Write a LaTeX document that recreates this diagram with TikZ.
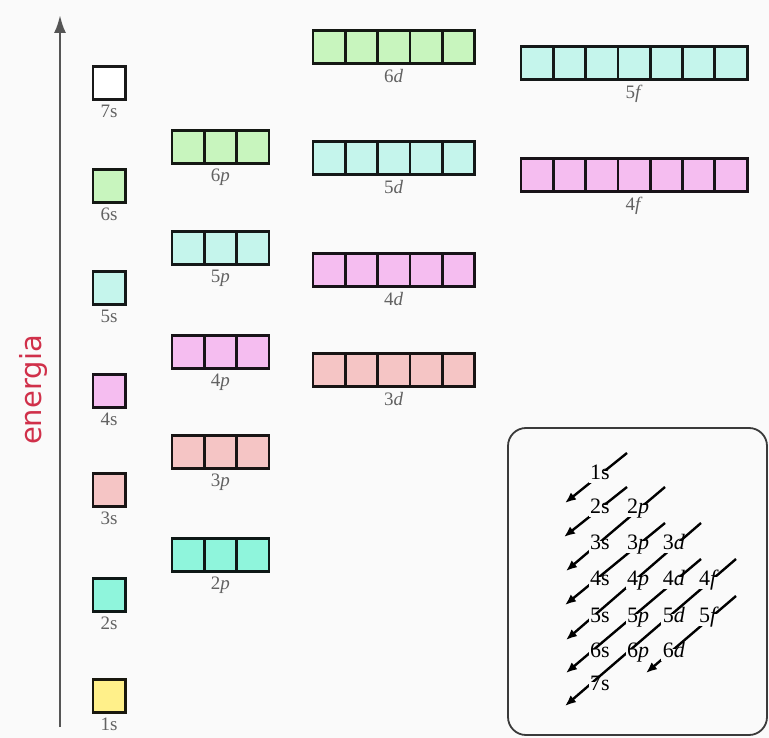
\documentclass[tikz,border=0pt]{standalone}
\usepackage{fontspec}
\setmainfont{Liberation Serif}
\newfontfamily\enfont{DejaVu Sans}
\usetikzlibrary{arrows.meta,calc,backgrounds}
\definecolor{cY}{HTML}{FFF08A}
\definecolor{cT}{HTML}{8FF5DC}
\definecolor{cR}{HTML}{F5C5C5}
\definecolor{cV}{HTML}{F5BDF0}
\definecolor{cC}{HTML}{C5F5EC}
\definecolor{cG}{HTML}{C8F5BE}
\definecolor{cW}{HTML}{FFFFFF}
\definecolor{bg}{HTML}{FAFAFA}
\definecolor{enred}{HTML}{D0304A}
\definecolor{lblgray}{HTML}{626262}
\definecolor{axgray}{HTML}{555555}
\definecolor{insetgray}{HTML}{3A3A3A}
\tikzset{
  cell/.style={draw=#1!10!black, fill=#1, line width=2.8pt, minimum size=32.3pt, inner sep=0pt, outer sep=0pt},
  lbl/.style={text=lblgray, font=\fontsize{19}{19}\selectfont, anchor=north, inner sep=0pt},
  ilbl/.style={fill=bg, font=\fontsize{22}{22}\selectfont, inner sep=1.5pt, text height=0.66em, text depth=0.2em},
  diag/.style={line width=2.4pt, -{Latex[length=11pt,width=9pt]}},
}
\newcommand\orbrow[6]{%
  \foreach \i in {1,...,#4}{\node[cell=#5] (#1-\i) at ({#2+(\i-0.5)*32.3},#3) {};}
  \node[lbl] (#1-l) at ({#2+#4*32.3/2},#3+22) {#6};
}
\begin{document}
\begin{tikzpicture}[x=1pt,y=-1pt]
\useasboundingbox (0,0) rectangle (769,738);
\begin{pgfonlayer}{background}
\fill[bg] (0,0) rectangle (769,738);
\end{pgfonlayer}
% energy axis
\coordinate (axB) at (60,727);
\coordinate (axT) at (60,15);
\draw[line width=2.6pt, axgray, -{Latex[length=18pt,width=12pt]}] (axB) -- (axT);
\node[rotate=90, text=enred, font=\enfont\fontsize{29}{29}\selectfont] (en) at (33,390) {energia};
% s
\orbrow{s1}{93}{696}{1}{cY}{1s}
\orbrow{s2}{93}{595}{1}{cT}{2s}
\orbrow{s3}{93}{490}{1}{cR}{3s}
\orbrow{s4}{93}{391}{1}{cV}{4s}
\orbrow{s5}{93}{288}{1}{cC}{5s}
\orbrow{s6}{93}{186}{1}{cG}{6s}
\orbrow{s7}{93}{83}{1}{cW}{7s}
% p
\orbrow{p2}{172}{555}{3}{cT}{2\textit{p}}
\orbrow{p3}{172}{452}{3}{cR}{3\textit{p}}
\orbrow{p4}{172}{352}{3}{cV}{4\textit{p}}
\orbrow{p5}{172}{248}{3}{cC}{5\textit{p}}
\orbrow{p6}{172}{147}{3}{cG}{6\textit{p}}
% d
\orbrow{d3}{313}{370}{5}{cR}{3\textit{d}}
\orbrow{d4}{313}{270}{5}{cV}{4\textit{d}}
\orbrow{d5}{313}{158}{5}{cC}{5\textit{d}}
\orbrow{d6}{313}{47}{5}{cG}{6\textit{d}}
% f
\orbrow{f4}{521}{175}{7}{cV}{4\textit{f}}
\orbrow{f5}{521}{63}{7}{cC}{5\textit{f}}
% inset
\node[draw=insetgray, line width=1.8pt, rounded corners=18pt, minimum width=259pt, minimum height=307pt, inner sep=0pt] (inset) at (637.5,581.5) {};
\node[ilbl] (i1s) at (600,477) {1s};
\node[ilbl] (i2s) at (600,511) {2s};
\node[ilbl] (i2p) at (638,511) {2\textit{p}};
\node[ilbl] (i3s) at (600,547) {3s};
\node[ilbl] (i3p) at (638,547) {3\textit{p}};
\node[ilbl] (i3d) at (674,547) {3\textit{d}};
\node[ilbl] (i4s) at (600,583) {4s};
\node[ilbl] (i4p) at (638,583) {4\textit{p}};
\node[ilbl] (i4d) at (674,583) {4\textit{d}};
\node[ilbl] (i4f) at (709,583) {4\textit{f}};
\node[ilbl] (i5s) at (600,620) {5s};
\node[ilbl] (i5p) at (638,620) {5\textit{p}};
\node[ilbl] (i5d) at (674,620) {5\textit{d}};
\node[ilbl] (i5f) at (709,620) {5\textit{f}};
\node[ilbl] (i6s) at (600,655) {6s};
\node[ilbl] (i6p) at (638,655) {6\textit{p}};
\node[ilbl] (i6d) at (674,655) {6\textit{d}};
\node[ilbl] (i7s) at (600,688) {7s};
\begin{pgfonlayer}{background}
\draw[diag] ($(i1s)+(27,-24)$) -- ($(i1s)+(-35,26)$);
\draw[diag] ($(i2s)+(27,-24)$) -- ($(i2s)+(-36,26)$);
\draw[diag] ($(i2p)+(27,-24)$) -- ($(i3s)+(-34,24)$);
\draw[diag] ($(i3p)+(27,-24)$) -- ($(i4s)+(-35,22)$);
\draw[diag] ($(i3d)+(27,-24)$) -- ($(i5s)+(-34,20)$);
\draw[diag] ($(i4d)+(27,-24)$) -- ($(i6s)+(-34,18)$);
\draw[diag] ($(i4f)+(27,-24)$) -- ($(i7s)+(-35,18)$);
\draw[diag] ($(i5f)+(27,-24)$) -- ($(i6d)+(-28,18)$);
\end{pgfonlayer}
\end{tikzpicture}
\end{document}
